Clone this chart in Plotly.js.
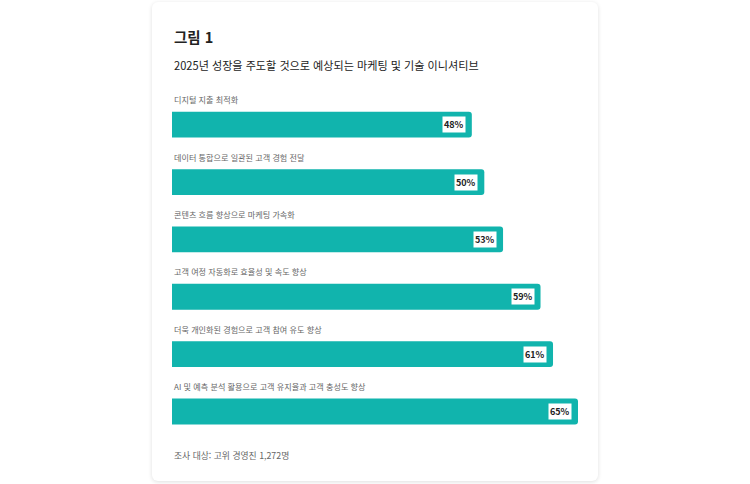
<!DOCTYPE html>
<html lang="ko">
<head>
<meta charset="utf-8">
<script src="https://cdn.plot.ly/plotly-3.0.1.min.js"></script>
<style>
  html, body { margin: 0; padding: 0; background: #fff; }
  body { width: 750px; height: 484px; position: relative; overflow: hidden; }
  .card {
    position: absolute; left: 152px; top: 2px; width: 446px; height: 479px;
    background: #fff; border-radius: 6px;
    box-shadow: 0 1px 4px rgba(0,0,0,0.13);
  }
  #chart { width: 446px; height: 479px; }
</style>
</head>
<body>
<div class="card"><div id="chart"></div></div>
<script>
// 데이터
const categories = [
  "디지털 지출 최적화",
  "데이터 통합으로 일관된 고객 경험 전달",
  "콘텐츠 흐름 향상으로 마케팅 가속화",
  "고객 여정 자동화로 효율성 및 속도 향상",
  "더욱 개인화된 경험으로 고객 참여 유도 향상",
  "AI 및 예측 분석 활용으로 고객 유지율과 고객 충성도 향상"
];
const values = [48, 50, 53, 59, 61, 65];
const valueLabels = ["48%", "50%", "53%", "59%", "61%", "65%"];

const figTitle = "그림 1";
const figSubtitle = "2025년 성장을 주도할 것으로 예상되는 마케팅 및 기술 이니셔티브";
const figNote = "조사 대상: 고위 경영진 1,272명";

const FONT = '"Noto Sans CJK KR", "Noto Sans", sans-serif';
const TEAL = "#11b4ad";

const trace = {
  type: "bar",
  orientation: "h",
  x: values,
  y: categories,
  marker: { color: TEAL },
  hoverinfo: "skip"
};

const annotations = [];

// 항목 이름 (막대 위)
categories.forEach(c => {
  annotations.push({
    x: 0, xref: "x", y: c, yref: "y",
    xanchor: "left", yanchor: "middle", yshift: 25,
    text: c, showarrow: false,
    font: { family: FONT, size: 8.1, color: "#666" }
  });
});

// 값 라벨 (막대 끝, 흰 박스)
values.forEach((v, i) => {
  annotations.push({
    x: v, xref: "x", y: categories[i], yref: "y",
    xanchor: "right", yanchor: "middle", xshift: -6,
    text: "<b>" + valueLabels[i] + "</b>", showarrow: false,
    bgcolor: "#fff", borderpad: 1,
    font: { family: FONT, size: 9, color: "#222" }
  });
});

annotations.push({
  x: 0, xref: "paper", y: 1, yref: "paper", yshift: 60,
  xanchor: "left", yanchor: "middle",
  text: "<b>" + figTitle + "</b>", showarrow: false,
  font: { family: FONT, size: 14.5, color: "#222" }
});
annotations.push({
  x: 0, xref: "paper", y: 1, yref: "paper", yshift: 31,
  xanchor: "left", yanchor: "middle",
  text: figSubtitle, showarrow: false,
  font: { family: FONT, size: 11.1, color: "#222" }
});
annotations.push({
  x: 0, xref: "paper", y: 0, yref: "paper", yshift: -11,
  xanchor: "left", yanchor: "middle",
  text: figNote, showarrow: false,
  font: { family: FONT, size: 8.8, color: "#666" }
});

const layout = {
  width: 446,
  height: 479,
  margin: { l: 20, r: 20, t: 94, b: 37 },
  paper_bgcolor: "rgba(0,0,0,0)",
  plot_bgcolor: "rgba(0,0,0,0)",
  showlegend: false,
  bargap: 0.55,
  barcornerradius: 3,
  xaxis: {
    range: [0, 65], showgrid: false, zeroline: false,
    showticklabels: false, showline: false, fixedrange: true
  },
  yaxis: {
    type: "category", autorange: "reversed",
    showgrid: false, zeroline: false, showticklabels: false,
    showline: false, fixedrange: true
  },
  annotations
};

Plotly.newPlot("chart", [trace], layout, { displayModeBar: false, staticPlot: true });
</script>
</body>
</html>
